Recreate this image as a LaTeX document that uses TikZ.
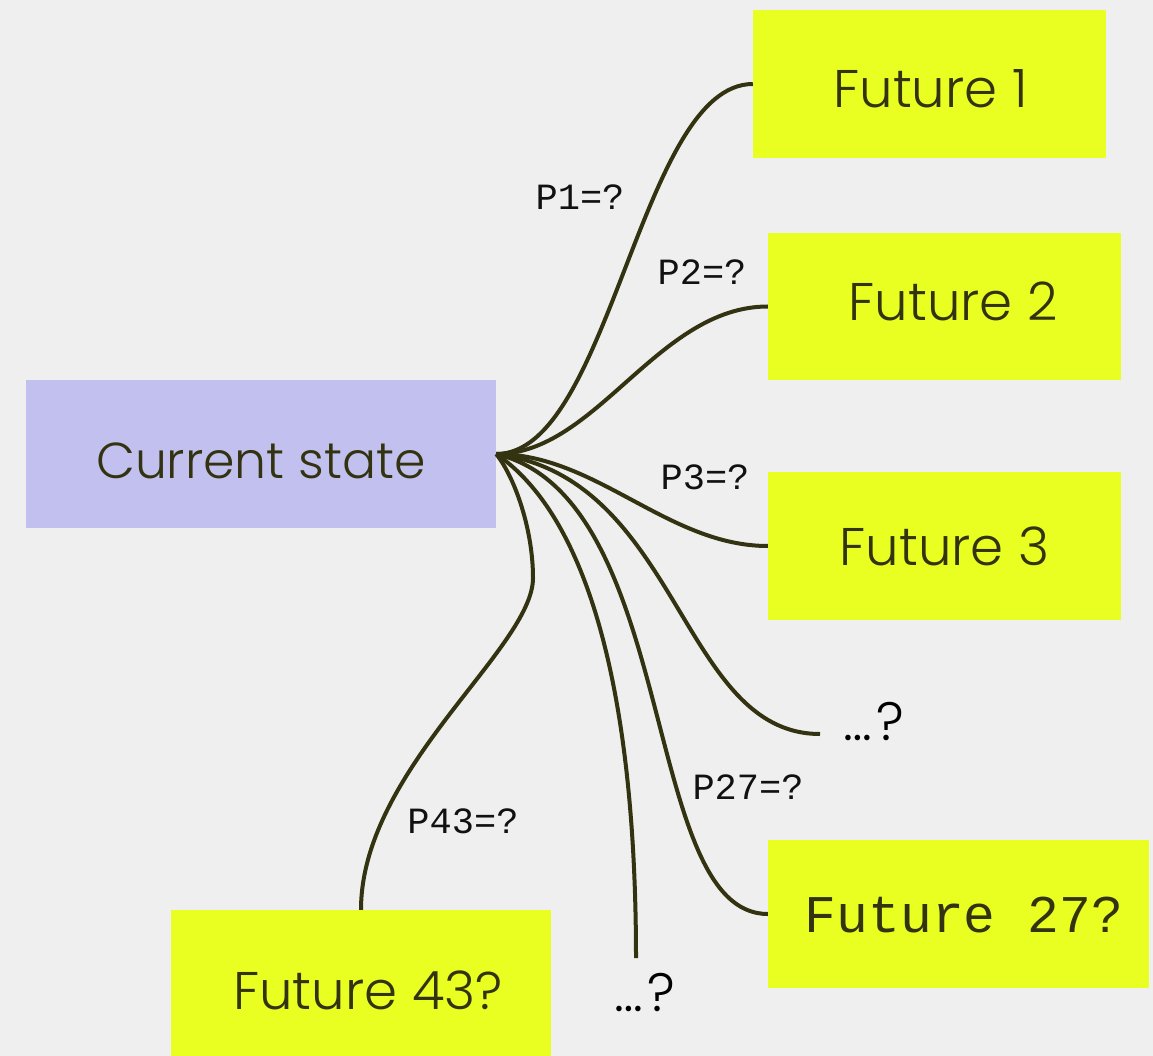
\documentclass[tikz,border=0pt]{standalone}
\usepackage{fontspec}
\setmainfont{Poppins Light}
\newfontfamily\labfont{Liberation Mono}
\definecolor{bgc}{HTML}{EFEFEF}
\definecolor{ylw}{HTML}{E9FF22}
\definecolor{prp}{HTML}{C2C0EE}
\definecolor{ink}{HTML}{333311}
\definecolor{lab}{HTML}{111111}
% text placed with its baseline #2 below the node centre, shifted right by #1/2
\newcommand\bxtext[3]{\raisebox{-#2}[0pt][0pt]{\hspace*{#1}#3}}
\tikzset{
  box/.style={rectangle, inner sep=0pt, text=ink, font=\fontsize{53}{56}\selectfont},
  fut/.style={box, fill=ylw},
  link/.style={draw=ink, line width=4pt},
  plab/.style={text=lab, font=\labfont\fontsize{37}{40}\selectfont, inner sep=0pt},
  dots/.style={text=black, font=\fontsize{54}{58}\selectfont, inner sep=0pt}
}
\begin{document}
\begin{tikzpicture}[x=1pt,y=-1pt]
\fill[bgc] (0,0) rectangle (1153,1056);
\useasboundingbox (0,0) rectangle (1153,1056);
% boxes
\node[box, fill=prp, minimum width=470pt, minimum height=148pt, font=\fontsize{50.5}{54}\selectfont] (cur) at (261,454) {\bxtext{0pt}{24pt}{Current state}};
\node[fut, minimum width=353pt, minimum height=148pt] (f1) at (929.5,84) {\bxtext{2pt}{24pt}{Future 1}};
\node[fut, minimum width=353pt, minimum height=147pt] (f2) at (944.5,306.5) {\bxtext{17pt}{13.5pt}{Future 2}};
\node[fut, minimum width=353pt, minimum height=148pt] (f3) at (944.5,546) {\bxtext{0pt}{19pt}{Future 3}};
\node[fut, minimum width=381pt, minimum height=148pt, font=\labfont\fontsize{53}{56}\selectfont] (f27) at (958.5,914) {\bxtext{11pt}{18pt}{Future 27?}};
\node[fut, minimum width=380pt, minimum height=146pt] (f43) at (361,983) {\bxtext{14pt}{26pt}{Future 43?}};
% dots
\node[dots, anchor=west] (d1) at (843,722) {…\hspace{5pt}?};
\node[dots] (d2) at (645,993) {…\hspace{5pt}?};
\coordinate (e1) at (820,734);
\coordinate (e2) at (636,958);
\coordinate (k43) at (533,578);
% connectors
\path[link] (cur.east) .. controls +(114,0) and +(-113,0) .. (f1.west);
\path[link] (cur.east) .. controls +(100,0) and +(-110,0) .. (f2.west);
\path[link] (cur.east) .. controls +(100,0) and +(-100,0) .. (f3.west);
\path[link] (cur.east) .. controls +(184,24) and +(-140,0) .. (e1);
\path[link] (cur.east) .. controls +(184,44) and +(-128,0) .. (f27.west);
\path[link] (cur.east) .. controls +(94,64) and +(0,-258) .. (e2);
\path[link] (cur.east) .. controls +(19,24) and +(0,-48) .. (k43) .. controls +(0,70) and +(0,-140) .. (f43.north);
% labels
\node[plab] (p1) at (580,197) {P1=?};
\node[plab] (p2) at (702,272) {P2=?};
\node[plab] (p3) at (705,477) {P3=?};
\node[plab] (p27) at (748,787) {P27=?};
\node[plab] (p43) at (463,821) {P43=?};
\end{tikzpicture}
\end{document}
